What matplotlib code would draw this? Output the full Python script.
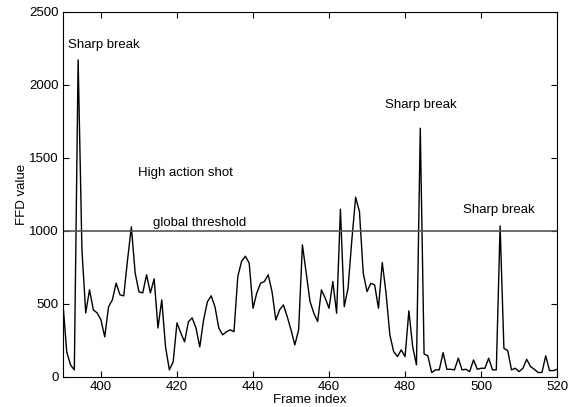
import numpy as np
import matplotlib
matplotlib.use("Agg")
import matplotlib.pyplot as plt

# =========================
# DATA
# =========================

frames = list(range(390, 521))

ffd = [
    507, 171, 82, 48, 2171, 870, 438, 596, 459, 438,      # 390-399
    390, 274, 480, 527, 642, 562, 555, 801, 1027, 712,    # 400-409
    582, 575, 699, 575, 671, 335, 527, 205, 48, 103,      # 410-419
    370, 301, 240, 377, 404, 335, 205, 390, 514, 555,     # 420-429
    480, 335, 288, 308, 322, 310, 687, 792, 826, 779,     # 430-439
    470, 575, 642, 653, 699, 584, 390, 459, 493, 413,     # 440-449
    322, 219, 322, 904, 710, 516, 436, 379, 596, 539,     # 450-459
    470, 653, 436, 1148, 481, 607, 938, 1230, 1132, 710,  # 460-469
    584, 641, 630, 470, 783, 573, 288, 173, 139, 185,     # 470-479
    139, 452, 207, 82, 1703, 157, 144, 30, 48, 48,        # 480-489
    166, 52, 52, 48, 128, 48, 52, 36, 116, 52,            # 490-499
    59, 59, 128, 48, 48, 1034, 196, 180, 48, 59,          # 500-509
    36, 59, 120, 71, 52, 30, 30, 144, 43, 43,             # 510-519
    52,                                                   # 520
]

THRESHOLD = 1000

labels = ["Sharp break", "High action shot", "global threshold", "Sharp break", "Sharp break"]
label_x = [391.3, 409.7, 413.7, 474.7, 495.3]
label_y = [2274, 1397, 1055, 1863, 1144]

# =========================
# PLOT
# =========================

plt.rcParams["font.family"] = ["Liberation Sans", "DejaVu Sans"]
plt.rcParams["font.size"] = 9.5

fig = plt.figure(figsize=(5.72, 4.07), dpi=100)
ax = fig.add_axes([0.110, 0.074, 0.864, 0.897])

ax.plot(frames, ffd, color="black", linewidth=1)
ax.axhline(THRESHOLD, color="#555555", linewidth=1.2)

for t, x, y in zip(labels, label_x, label_y):
    ax.text(x, y, t, fontsize=9.5, va="center", ha="left")

ax.set_xlim(390, 520)
ax.set_ylim(0, 2500)
ax.set_xticks(range(400, 521, 20))
ax.set_yticks(range(0, 2501, 500))
ax.tick_params(direction="in", top=True, right=True, length=4, labelsize=9.5, pad=3)

ax.set_xlabel("Frame index", fontsize=9.5, labelpad=1)
ax.set_ylabel("FFD value", fontsize=9.5, labelpad=1)

plt.savefig("out.png", dpi=100)
